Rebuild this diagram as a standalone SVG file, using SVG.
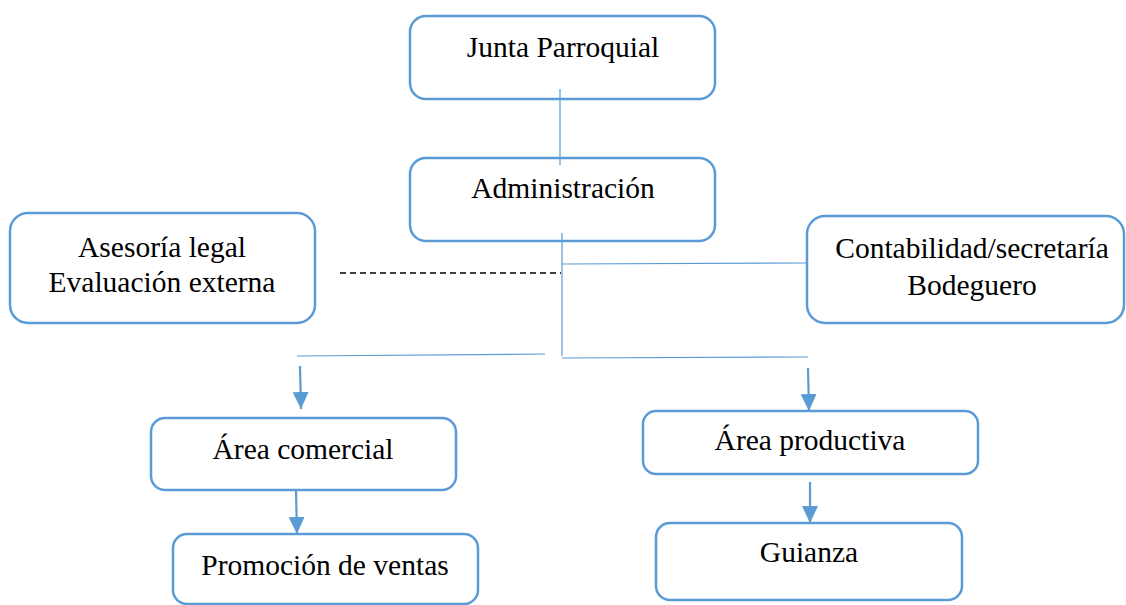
<svg xmlns="http://www.w3.org/2000/svg" width="1126" height="605" viewBox="0 0 1126 605">
<defs>
<style>
.box{fill:#fff;stroke:#5B9BD5;stroke-width:2.5}
.t{font-family:'Liberation Serif','Times New Roman',serif;font-size:29.5px;fill:#000;text-anchor:middle}
.thin{stroke:#5B9BD5;stroke-width:1.2;fill:none}
.arr{stroke:#5B9BD5;stroke-width:2.2;fill:none;marker-end:url(#ah)}
</style>
<marker id="ah" markerUnits="userSpaceOnUse" markerWidth="17" markerHeight="16" refX="17" refY="8" orient="auto" viewBox="0 0 17 16">
<path d="M0,0 L17,8 L0,16 Z" fill="#5B9BD5"/>
</marker>
</defs>
<rect width="1126" height="605" fill="#fff"/>
<g id="n-junta"><rect class="box" x="410" y="16" width="305" height="83" rx="16"/><text class="t" x="563" y="57">Junta Parroquial</text></g>
<g id="n-admin"><rect class="box" x="410" y="158" width="305" height="83" rx="16"/><text class="t" x="563" y="198">Administración</text></g>
<g id="n-asesoria"><rect class="box" x="10" y="213" width="305" height="110" rx="18"/><text class="t" x="162" y="257">Asesoría legal</text><text class="t" x="162" y="292">Evaluación externa</text></g>
<g id="n-conta"><rect class="box" x="807" y="216" width="317" height="107" rx="18"/><text class="t" x="972" y="258">Contabilidad/secretaría</text><text class="t" x="972" y="295">Bodeguero</text></g>
<g id="n-comercial"><rect class="box" x="151" y="418" width="305" height="72" rx="14"/><text class="t" x="303" y="459">Área comercial</text></g>
<g id="n-promo"><rect class="box" x="173" y="534" width="305" height="70" rx="14"/><text class="t" x="325" y="575">Promoción de ventas</text></g>
<g id="n-productiva"><rect class="box" x="643" y="411" width="335" height="63" rx="13"/><text class="t" x="810" y="450">Área productiva</text></g>
<g id="n-guianza"><rect class="box" x="656" y="523" width="306" height="77" rx="14"/><text class="t" x="809" y="562">Guianza</text></g>
<g id="connectors">
<line class="thin" x1="560" y1="89" x2="560" y2="165"/>
<line class="thin" x1="562" y1="233" x2="562" y2="356"/>
<line class="thin" x1="562" y1="264" x2="807" y2="263"/>
<line x1="340" y1="273" x2="561" y2="273" stroke="#000" stroke-width="1.5" stroke-dasharray="6,4"/>
<line class="thin" x1="297" y1="356" x2="545" y2="354"/>
<line class="thin" x1="562" y1="358" x2="808" y2="357"/>
<line class="arr" x1="300" y1="366" x2="301" y2="409"/>
<line class="arr" x1="808" y1="368" x2="809" y2="411"/>
<line class="arr" x1="296" y1="491" x2="297" y2="534"/>
<line class="arr" x1="810" y1="482" x2="810" y2="523"/>
</g>
</svg>
